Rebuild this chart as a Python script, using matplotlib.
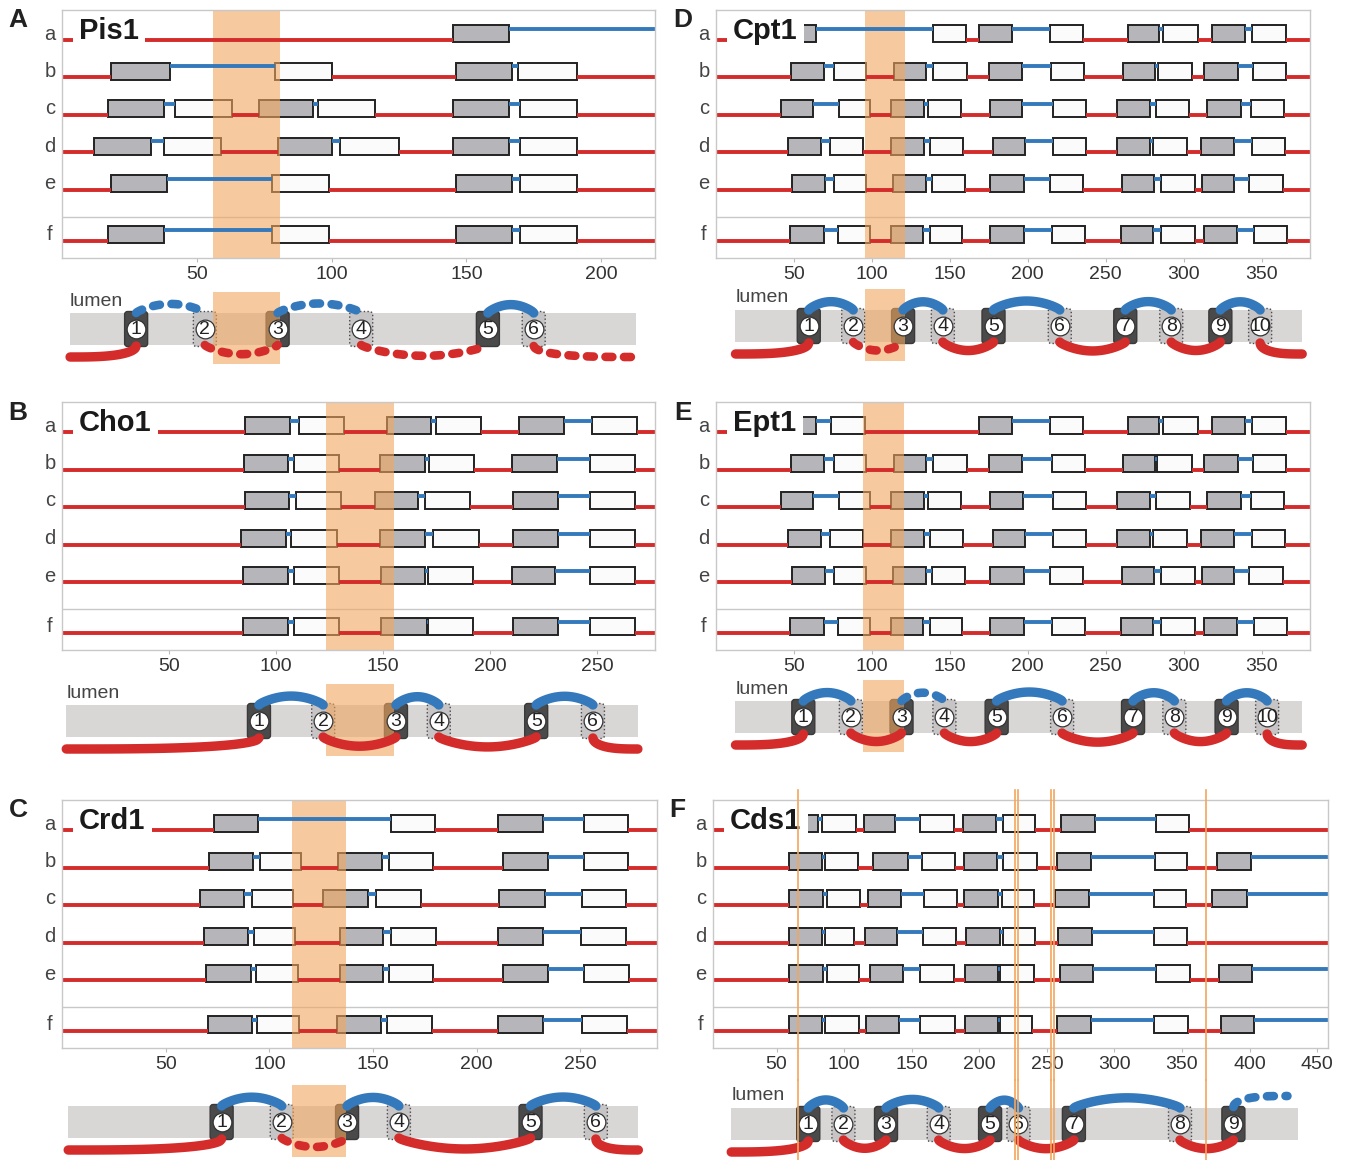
import numpy as np
import matplotlib.pyplot as plt
from matplotlib.patches import Rectangle, FancyBboxPatch
from matplotlib.transforms import blended_transform_factory

plt.rcParams['font.family'] = ['Liberation Sans', 'DejaVu Sans']

W, H = 1350, 1160
RED = '#d42b2b'
BLUE = '#3479bc'
ORANGE = '#f2a65e'
ROW_NAMES = ['a', 'b', 'c', 'd', 'e', 'f']

# ---- Pis1 ----
PIS1_XLIM = (0, 220)
PIS1_ROWS = [
    [(145, 166)],
    [(18, 40), (79, 100), (146, 167), (169, 191)],
    [(17, 38), (42, 63), (73, 93), (95, 116), (145, 166), (170, 191)],
    [(12, 33), (38, 59), (80, 100), (103, 125), (145, 166), (170, 191)],
    [(18, 39), (78, 99), (146, 167), (170, 191)],
    [(17, 38), (78, 99), (146, 167), (170, 191)],
]
PIS1_BAND = (56, 81)
PIS1_TM = [27.5, 53, 80, 111, 158, 175]
PIS1_MEMBRANE = (3, 213)
PIS1_LOOPS = ['s', 'b', 'b', 'b', 'b', 's', 'b']

# ---- Cho1 ----
CHO1_XLIM = (0, 277)
CHO1_ROWS = [
    [(85.5, 106.5), (110.5, 131.5), (152, 172.5), (174.5, 195.5), (213.5, 234.5), (247.5, 268.5)],
    [(85, 105.5), (108.5, 129.5), (148.5, 169.5), (171.5, 192.5), (210, 231), (246.5, 267.5)],
    [(85.5, 106), (109.5, 130.5), (146, 166.5), (169.5, 190.5), (210.5, 231.5), (246.5, 267.5)],
    [(83.5, 104.5), (107, 128.5), (148.5, 169.5), (173.5, 195), (210.5, 231.5), (246.5, 267.5)],
    [(84.5, 105.5), (108.5, 129.5), (149, 169.5), (171, 192), (210, 230.5), (246.5, 267.5)],
    [(84.5, 105.5), (108.5, 129.5), (149, 170.5), (171, 192), (210.5, 231.5), (246.5, 267.5)],
]
CHO1_BAND = (123.5, 155)
CHO1_TM = [92, 122, 156, 176, 221.5, 248]
CHO1_MEMBRANE = (2, 269)
CHO1_LOOPS = ['s', 's', 's', 's', 's', 's', 's']

# ---- Crd1 ----
CRD1_XLIM = (0, 287)
CRD1_ROWS = [
    [(73.5, 94.5), (158.5, 180), (210.5, 232), (252, 273)],
    [(71, 92), (95.5, 115.5), (133, 154.5), (157.5, 179), (212.5, 234.5), (252, 273)],
    [(66.5, 88), (91.5, 111.5), (126, 147.5), (151.5, 173), (211, 233), (251, 272)],
    [(68.5, 89.5), (92.5, 112.5), (134, 155), (158.5, 180.5), (210.5, 232), (250.5, 272)],
    [(69.5, 91), (93.5, 114), (134, 155), (157.5, 179), (212.5, 234.5), (252, 273.5)],
    [(70.5, 91.5), (94, 114.5), (132.5, 154), (157, 178.5), (210.5, 232), (251, 272.5)],
]
CRD1_BAND = (111, 137)
CRD1_TM = [77, 106, 137.5, 162.5, 226, 257.5]
CRD1_MEMBRANE = (3, 278)
CRD1_LOOPS = ['s', 's', 'b', 's', 's', 's', 's']

# ---- Cpt1 ----
CPT1_XLIM = (0, 381)
CPT1_ROWS = [
    [(48, 64), (139, 160.5), (169, 190), (214.5, 235.5), (264.5, 284), (286.5, 309), (318, 339.5), (344, 365.5)],
    [(48, 69.5), (75.5, 96), (114, 135), (139, 161), (175, 196), (215, 236), (261, 281.5), (283.5, 305), (313, 334.5), (344.5, 365.5)],
    [(41.5, 62.5), (79, 99), (112.5, 133.5), (136, 157), (176, 196.5), (216, 237.5), (257, 278.5), (282, 303.5), (315, 336.5), (343, 364.5)],
    [(46.5, 67.5), (73, 94.5), (112, 133.5), (137, 158.5), (177.5, 198), (216, 237.5), (257.5, 278.5), (280.5, 302), (311, 332.5), (343.5, 365)],
    [(49, 70), (75.5, 96), (113.5, 135), (138.5, 160), (176, 197.5), (214.5, 235.5), (260.5, 281), (285.5, 307), (311.5, 332.5), (342, 363.5)],
    [(47.5, 69.5), (78, 98.5), (112, 133), (137, 157.5), (176, 197.5), (215.5, 237), (260, 280.5), (285.5, 307), (313, 334), (345, 366)],
]
CPT1_BAND = (95.5, 121)
CPT1_TM = [59.5, 88, 120, 145.5, 178, 220.5, 262.5, 292, 323.5, 349]
CPT1_MEMBRANE = (12.5, 376)
CPT1_LOOPS = ['s', 's', 'b', 's', 's', 's', 's', 's', 's', 's', 's']

# ---- Ept1 ----
EPT1_XLIM = (0, 381)
EPT1_ROWS = [
    [(48, 64), (73.5, 95.5), (169, 190), (214.5, 235.5), (264.5, 284), (286.5, 309), (318, 339.5), (344, 365.5)],
    [(48, 69.5), (75.5, 96), (114, 135), (139, 161), (175, 196), (215.5, 237), (261, 281.5), (283, 305), (313, 334.5), (344.5, 365.5)],
    [(41.5, 62.5), (79, 99), (112.5, 133.5), (136, 157), (176, 197), (216, 237.5), (257, 278.5), (282.5, 304), (315, 336.5), (343, 364.5)],
    [(46.5, 67.5), (73, 94.5), (112, 133.5), (137, 158.5), (177.5, 198), (216, 237.5), (257.5, 278.5), (280.5, 302), (311, 332.5), (343.5, 365)],
    [(49, 70), (75.5, 96), (113.5, 135), (138.5, 160), (176, 197.5), (214.5, 235.5), (260.5, 281), (285.5, 307), (311.5, 332.5), (342, 363.5)],
    [(47.5, 69.5), (78, 98.5), (112, 133), (137, 157.5), (176, 197.5), (215.5, 237), (260, 280.5), (285.5, 307), (313, 334), (345, 366)],
]
EPT1_BAND = (94.5, 120.5)
EPT1_TM = [56, 86.5, 119, 146.5, 180, 222, 267.5, 294, 327.5, 353.5]
EPT1_MEMBRANE = (12.5, 376)
EPT1_LOOPS = ['s', 's', 's', 'b', 's', 's', 's', 's', 's', 's', 's']

# ---- Cds1 ----
CDS1_XLIM = (3, 458)
CDS1_ROWS = [
    [(58, 80.5), (84, 108.5), (115, 138), (156.5, 181.5), (188, 212.5), (217.5, 241.5), (260.5, 285.5), (330.5, 355.5)],
    [(59, 83.5), (86, 110), (121.5, 147), (157.5, 182), (188.5, 213), (217.5, 243), (257.5, 282.5), (330, 354), (376, 401)],
    [(59.5, 84.5), (87, 111.5), (117.5, 142), (159, 183.5), (189, 213.5), (216.5, 240.5), (256, 281), (329.5, 353), (372, 398)],
    [(59.5, 83.5), (85.5, 107.5), (115.5, 139), (158, 183), (190.5, 215.5), (217.5, 241.5), (258.5, 283.5), (329.5, 354)],
    [(59.5, 84.5), (87, 111), (119, 143.5), (156.5, 181.5), (189.5, 214), (215.5, 240.5), (259.5, 284), (331, 356), (377, 402)],
    [(59, 83.5), (86, 111), (116.5, 140.5), (156.5, 182), (189.5, 213.5), (215.5, 239), (257.5, 283), (329.5, 354.5), (378.5, 403.5)],
]
CDS1_LINES = [66, 226.5, 229, 253, 255.5, 367.5]
CDS1_TM = [73.5, 99.5, 131, 170, 208, 229, 270, 348.5, 388]
CDS1_MEMBRANE = (16.5, 436)
CDS1_LOOPS = ['s', 's', 's', 's', 's', 's', 's', 's', 's', 'b']
CDS1_CTERM_END = 428

PANELS = [
    dict(letter='A', name='Pis1', rows=PIS1_ROWS, xlim=PIS1_XLIM, band=PIS1_BAND, lines=None,
         tm=PIS1_TM, membrane=PIS1_MEMBRANE, loops=PIS1_LOOPS, cend=PIS1_MEMBRANE[1], lumen=True,
         frame=(62, 10, 593), cart=285, lpos=(18, 20)),
    dict(letter='B', name='Cho1', rows=CHO1_ROWS, xlim=CHO1_XLIM, band=CHO1_BAND, lines=None,
         tm=CHO1_TM, membrane=CHO1_MEMBRANE, loops=CHO1_LOOPS, cend=CHO1_MEMBRANE[1], lumen=True,
         frame=(62, 402, 593), cart=677, lpos=(18, 413)),
    dict(letter='C', name='Crd1', rows=CRD1_ROWS, xlim=CRD1_XLIM, band=CRD1_BAND, lines=None,
         tm=CRD1_TM, membrane=CRD1_MEMBRANE, loops=CRD1_LOOPS, cend=CRD1_MEMBRANE[1], lumen=False,
         frame=(62, 800, 595), cart=1078, lpos=(18, 810)),
    dict(letter='D', name='Cpt1', rows=CPT1_ROWS, xlim=CPT1_XLIM, band=CPT1_BAND, lines=None,
         tm=CPT1_TM, membrane=CPT1_MEMBRANE, loops=CPT1_LOOPS, cend=CPT1_MEMBRANE[1], lumen=True,
         frame=(716, 10, 594), cart=282, lpos=(683, 20)),
    dict(letter='E', name='Ept1', rows=EPT1_ROWS, xlim=EPT1_XLIM, band=EPT1_BAND, lines=None,
         tm=EPT1_TM, membrane=EPT1_MEMBRANE, loops=EPT1_LOOPS, cend=EPT1_MEMBRANE[1], lumen=True,
         frame=(716, 402, 594), cart=673, lpos=(683, 413)),
    dict(letter='F', name='Cds1', rows=CDS1_ROWS, xlim=CDS1_XLIM, band=None, lines=CDS1_LINES,
         tm=CDS1_TM, membrane=CDS1_MEMBRANE, loops=CDS1_LOOPS, cend=CDS1_CTERM_END, lumen=True,
         frame=(713, 800, 615), cart=1080, lpos=(677, 810)),
]

ROW_Y = [30, 67.5, 105, 142.5, 180, 231]
SEP_Y = 207
TRACK_H = 248
CART_H = 80


def px_axes(fig, left, top, width, height):
    return fig.add_axes([left / W, 1 - (top + height) / H, width / W, height / H])


fig = plt.figure(figsize=(W / 100, H / 100), dpi=100)
fig.patch.set_facecolor('white')

for p in PANELS:
    left, top, width = p['frame']
    x0, x1 = p['xlim']
    upx = (x1 - x0) / width  # data units per pixel

    # ---------- track plot ----------
    ax = px_axes(fig, left, top, width, TRACK_H)
    ax.set_xlim(x0, x1)
    ax.set_ylim(TRACK_H, 0)
    for y, segs in zip(ROW_Y, p['rows']):
        edges = [x0] + [v for s in segs for v in s] + [x1]
        for k in range(len(segs) + 1):
            lum = k % 2 == 1
            yy = y - 11 if lum else y
            ax.plot([edges[2 * k], edges[2 * k + 1]], [yy, yy], color=BLUE if lum else RED,
                    lw=2.8, solid_capstyle='butt', zorder=5)
        for j, (s, e) in enumerate(segs):
            fc = '#b6b6ba' if j % 2 == 0 else '#fbfbfb'
            ax.add_patch(Rectangle((s, y - 15), e - s, 17, fc=fc, ec='#222222', lw=1.4, zorder=3))
    ax.axhline(SEP_Y, color='#c8c8c8', lw=1, zorder=1)
    if p['band'] is not None:
        ax.axvspan(p['band'][0], p['band'][1], color=ORANGE, alpha=0.6, lw=0, zorder=4)
    if p['lines'] is not None:
        for xv in p['lines']:
            ax.plot([xv, xv], [-10, TRACK_H + 32], color=ORANGE, lw=1.2, clip_on=False, zorder=7)

    ticks = np.arange(50, x1, 50)
    ax.set_xticks(ticks)
    ax.set_xticklabels([str(t) for t in ticks])
    ax.set_yticks([])
    ax.tick_params(axis='x', length=3, color='#bbbbbb', labelsize=14, labelcolor='#333333', pad=3)
    for sp in ax.spines.values():
        sp.set_color('#c8c8c8')
        sp.set_linewidth(1)
        sp.set_zorder(6)

    tr = blended_transform_factory(ax.transAxes, ax.transData)
    for y, nm in zip(ROW_Y, ROW_NAMES):
        ax.text(-12 / width, y - 6, nm, transform=tr, ha='center', va='center',
                fontsize=14.5, color='#444444')
    ax.text(17 / width, 21, p['name'], transform=tr, ha='left', va='center', fontsize=21,
            fontweight='bold', color='#1a1a1a', zorder=5.5,
            bbox=dict(boxstyle='square,pad=0.22', fc='white', ec='none'))
    fig.text(p['lpos'][0] / W, 1 - p['lpos'][1] / H, p['letter'], ha='center', va='center',
             fontsize=19, fontweight='bold', color='#222222')

    # ---------- membrane cartoon ----------
    cx = px_axes(fig, left, p['cart'], width, CART_H)
    cx.set_xlim(x0, x1)
    cx.set_ylim(36, -44)
    cx.axis('off')
    m0, m1 = p['membrane']
    cx.add_patch(Rectangle((m0, -16), m1 - m0, 32, fc='#d9d6d6', ec='none', zorder=1))
    bw = 23 * upx
    tm = p['tm']
    n = len(tm)
    t = np.linspace(0, 1, 100)
    for i, style in enumerate(p['loops']):
        lum = i % 2 == 1
        sgn = -1 if lum else 1
        if i == 0:
            xs = m0 + (tm[0] - m0) * t
            ys = sgn * (17 + 11 * np.sqrt(1 - t ** 3))
        elif i == n:
            xs = tm[-1] + (p['cend'] - tm[-1]) * t
            ys = sgn * (17 + 11 * np.sqrt(1 - (1 - t) ** 3))
        else:
            xa, xb = tm[i - 1], tm[i]
            h = min(7 + 0.03 * (xb - xa) / upx, 12)
            xs = xa + (xb - xa) * t
            ys = sgn * (16 + h * np.sin(np.pi * t) ** 0.75)
        kw = dict(color=BLUE if lum else RED, lw=6.8, zorder=4, clip_on=False,
                  solid_capstyle='round', dash_capstyle='round')
        if style == 'b':
            kw['lw'] = 6.2
            kw['linestyle'] = (0, (0.8, 1.35))
        cx.plot(xs, ys, **kw)
    for k, xc in enumerate(tm):
        if k % 2 == 0:
            fc, ec, ls = '#4a4a4a', '#3a3a3a', '-'
        else:
            fc, ec, ls = '#c6c4c4', '#4a4a4a', ':'
        cx.add_patch(FancyBboxPatch((xc - bw / 2, -17.5), bw, 35,
                                    boxstyle='round,pad=0,rounding_size=%g' % (3 * upx),
                                    mutation_aspect=1 / upx, fc=fc, ec=ec, lw=1, ls=ls, zorder=2))
        cx.plot([xc], [0], 'o', ms=13.5, mfc='white', mec='#333333', mew=0.9, zorder=5)
        cx.text(xc, 0.5, str(k + 1), ha='center', va='center', fontsize=14, color='#222222', zorder=5)
    if p['lumen']:
        cx.text(m0, -28, 'lumen', ha='left', va='center', fontsize=14, color='#444444')
    if p['band'] is not None:
        cx.add_patch(Rectangle((p['band'][0], -37), p['band'][1] - p['band'][0], 72,
                               fc=ORANGE, alpha=0.6, lw=0, zorder=3, clip_on=False))
    if p['lines'] is not None:
        for xv in p['lines']:
            cx.plot([xv, xv], [-44, 36], color=ORANGE, lw=1.2, clip_on=False, zorder=7)

fig.savefig('out.png', dpi=100, facecolor='white')
